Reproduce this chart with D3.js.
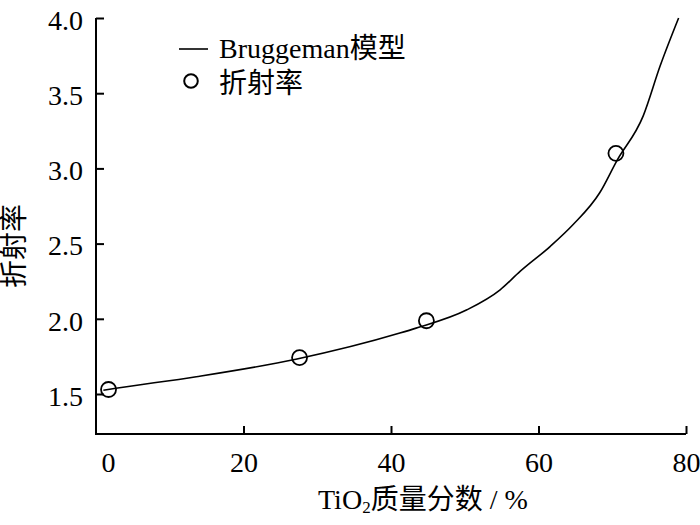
<!DOCTYPE html>
<html><head><meta charset="utf-8">
<script src="https://cdn.jsdelivr.net/npm/d3@7"></script>
<style>
html,body{margin:0;padding:0;background:#fff;}
svg{display:block;}
text{font-family:"Liberation Serif","Times New Roman","Noto Sans CJK SC",serif;fill:#000;}
</style></head>
<body>
<svg id="chart" width="700" height="525"></svg>
<script>
// Data
const curveX = [1.0, 2.7, 13.6, 27.1, 41.2, 43.4, 50.3, 54.8, 57.5, 61.6, 64.7, 68.3, 70.6, 74.2, 76.5, 79.0];
const curveY = [1.525, 1.538, 1.615, 1.731, 1.905, 1.938, 2.06, 2.193, 2.315, 2.482, 2.627, 2.838, 3.049, 3.349, 3.682, 4.0];
const pointX = [1.7, 27.6, 44.8, 70.5];
const pointY = [1.53, 1.742, 1.987, 3.1];
const xTicks = [0, 20, 40, 60, 80];
const yTicks = [1.5, 2.0, 2.5, 3.0, 3.5, 4.0];
const legendLabels = ["Bruggeman模型", "折射率"];
const yLabel = "折射率";

(function () {
const FONT = '"Liberation Serif","Times New Roman","Noto Sans CJK SC",serif';
const svg = d3.select("#chart");
const mLeft = 96, mRight = 686, mTop = 18, mBottom = 434;
const x = d3.scaleLinear().domain([0, 80]).range([mLeft, mRight]);
const y = d3.scaleLinear().domain([1.5, 4.0]).range([394, mTop]);
const FS = 28;

// X axis
const xAxis = d3.axisBottom(x).tickValues(xTicks).tickSizeInner(-8).tickSizeOuter(0).tickPadding(18).tickFormat(d3.format("d"));
const gx = svg.append("g").attr("transform", `translate(0,${mBottom})`).call(xAxis)
  .attr("font-family", FONT).attr("font-size", FS);
gx.select(".domain").remove();
gx.selectAll(".tick line").attr("stroke", "#000").attr("stroke-width", 2)
  .filter(d => d === 0).remove();
gx.selectAll(".tick text").attr("font-size", FS).attr("font-family", FONT)
  .attr("dx", d => d === 0 ? 12 : 0);

// Y axis
const yAxis = d3.axisLeft(y).tickValues(yTicks).tickSizeInner(-8).tickSizeOuter(0).tickPadding(13).tickFormat(d3.format(".1f"));
const gy = svg.append("g").attr("transform", `translate(${mLeft},0)`).call(yAxis)
  .attr("font-family", FONT).attr("font-size", FS);
gy.select(".domain").remove();
gy.selectAll(".tick line").attr("stroke", "#000").attr("stroke-width", 2);
gy.selectAll(".tick text").attr("font-size", FS).attr("font-family", FONT).attr("dy", "0.4em");

// Axis lines
svg.append("path").attr("d", `M${mLeft},${mTop}V${mBottom}H${mRight}`)
  .attr("fill", "none").attr("stroke", "#000").attr("stroke-width", 2);

// Curve
const curveData = curveX.map((v, i) => [v, curveY[i]]);
const line = d3.line().x(d => x(d[0])).y(d => y(d[1])).curve(d3.curveMonotoneX);
svg.append("path").datum(curveData).attr("d", line)
  .attr("fill", "none").attr("stroke", "#000").attr("stroke-width", 1.6);

// Points
svg.selectAll("circle.pt").data(pointX.map((v, i) => [v, pointY[i]])).enter()
  .append("circle").attr("class", "pt")
  .attr("cx", d => x(d[0])).attr("cy", d => y(d[1])).attr("r", 7.5)
  .attr("fill", "none").attr("stroke", "#000").attr("stroke-width", 1.8);

// Legend
const lg = svg.append("g");
lg.append("line").attr("x1", 179).attr("x2", 208).attr("y1", 49).attr("y2", 49)
  .attr("stroke", "#000").attr("stroke-width", 1.6);
lg.append("text").attr("x", 219).attr("y", 58).attr("font-size", FS).text(legendLabels[0]);
lg.append("circle").attr("cx", 191).attr("cy", 81).attr("r", 6.8)
  .attr("fill", "none").attr("stroke", "#000").attr("stroke-width", 2);
lg.append("text").attr("x", 219).attr("y", 93).attr("font-size", FS).text(legendLabels[1]);

// Y label
svg.append("text").attr("transform", "translate(24,246) rotate(-90)")
  .attr("text-anchor", "middle").attr("font-size", FS).text(yLabel);

// X label
const xl = svg.append("text").attr("x", 318).attr("y", 509).attr("font-size", FS);
xl.append("tspan").text("TiO");
xl.append("tspan").attr("font-size", 17).attr("dy", 4).text("2");
xl.append("tspan").attr("dy", -4).text("质量分数 / %");
})();
</script>
</body></html>
